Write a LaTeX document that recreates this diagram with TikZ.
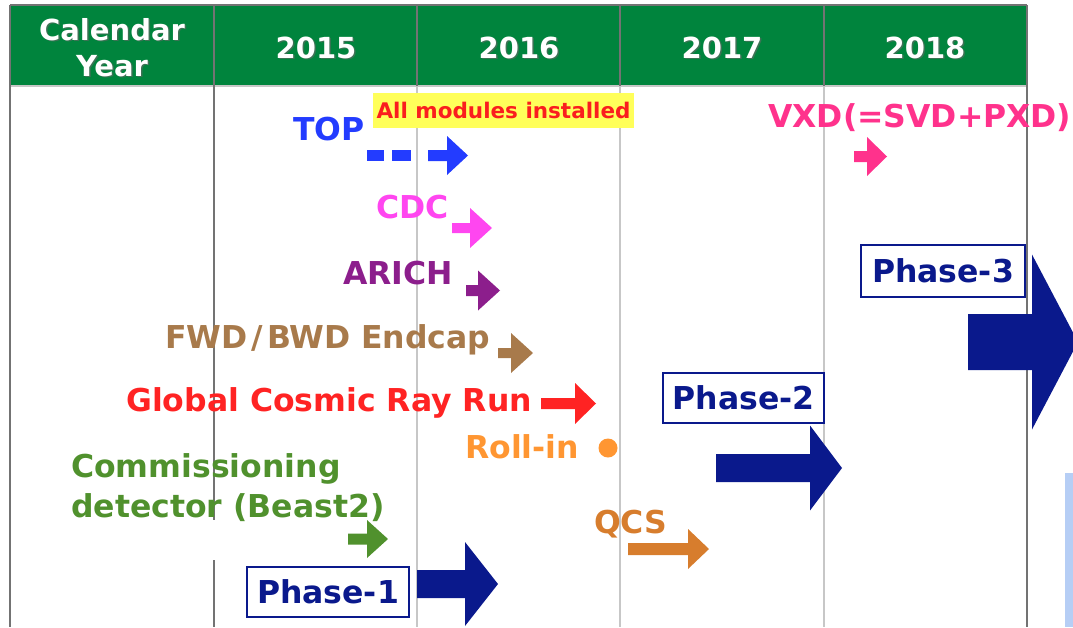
\documentclass[tikz,border=0pt]{standalone}
\usepackage{fontspec}
\setsansfont{DejaVu Sans}
\usetikzlibrary{positioning}

\definecolor{headgreen}{RGB}{0,132,61}
\definecolor{topblue}{RGB}{35,60,255}
\definecolor{allred}{RGB}{250,30,30}
\definecolor{allyellow}{RGB}{255,255,90}
\definecolor{cdcpink}{RGB}{255,70,240}
\definecolor{arichpurple}{RGB}{140,30,140}
\definecolor{endcapbrown}{RGB}{168,122,75}
\definecolor{cosmicred}{RGB}{255,35,35}
\definecolor{rollorange}{RGB}{255,150,50}
\definecolor{commgreen}{RGB}{80,145,45}
\definecolor{qcsorange}{RGB}{215,125,45}
\definecolor{vxdpink}{RGB}{255,50,140}
\definecolor{phasenavy}{RGB}{10,25,140}
\definecolor{edgeblue}{RGB}{182,206,245}

% block arrow: colour, x start, x head, x tip, y centre, shaft half, head half
\newcommand{\fatarrow}[7]{%
  \fill[#1] (#2,#5-#6) -- (#3,#5-#6) -- (#3,#5-#7) -- (#4,#5)
    -- (#3,#5+#7) -- (#3,#5+#6) -- (#2,#5+#6) -- cycle;}

\begin{document}
\begin{tikzpicture}[
    x=1pt, y=-1pt,
    darkline/.style={draw=black!55, line width=1.3pt},
    lightline/.style={draw=black!22, line width=1.3pt},
    headtext/.style={text=white, inner sep=0pt, anchor=base, font=\sffamily\bfseries\fontsize{29}{34}\selectfont},
    headshadow/.style={headtext, text=black!60, opacity=0.6},
    itemlabel/.style={inner sep=0pt, anchor=base west, font=\sffamily\bfseries\fontsize{31.5}{36}\selectfont},
    notebox/.style={fill=allyellow, text=allred, inner sep=0pt, minimum width=261pt, minimum height=35pt, font=\sffamily\bfseries\fontsize{21.5}{24}\selectfont},
    phasebox/.style={draw=phasenavy, line width=2.5pt, fill=white, text=phasenavy, inner sep=0pt, font=\sffamily\bfseries\fontsize{31.5}{36}\selectfont}
]
\useasboundingbox (0,0) rectangle (1073,627);
\clip (0,0) rectangle (1073,627);

% Header and grid
\fill[headgreen] (10,5) rectangle (1027,86);
\draw[darkline] (10,5) -- (1027,5);
\draw[lightline] (10,86) -- (1027,86);
\draw[darkline] (10,5) -- (10,627);
\draw[darkline] (1027,5) -- (1027,627);
\draw[darkline] (214,5) -- (214,520);
\draw[darkline] (214,560) -- (214,627);
\foreach \xg in {417,620,824} {
  \draw[darkline] (\xg,5) -- (\xg,86);
  \draw[lightline] (\xg,86) -- (\xg,627);
}

% Header texts
\node[headshadow] at (113.5,41.5) {Calendar};
\node[headtext] (cal) at (112,40) {Calendar};
\node[headshadow] at (113.5,77.5) {Year};
\node[headtext] (year) at (112,76) {Year};
\foreach \yr/\xc in {2015/316,2016/519,2017/722,2018/925} {
  \node[headshadow] at (\xc+1.5,59.5) {\yr};
  \node[headtext] (y\yr) at (\xc,58) {\yr};
}

% Detector items
\node[notebox] (allmod) at (503.5,110.5) {All modules installed};
\node[itemlabel, text=topblue] (top) at (293,140) {TOP};
\fill[topblue] (367,150) rectangle (384,161);
\fill[topblue] (392,150) rectangle (411,161);
\fatarrow{topblue}{428}{447}{468}{155.5}{5.5}{19.5}

\node[itemlabel, text=cdcpink] (cdc) at (376,218) {CDC};
\fatarrow{cdcpink}{452}{470}{492}{228}{5}{20}

\node[itemlabel, text=arichpurple] (arich) at (343,284) {ARICH};
\fatarrow{arichpurple}{466}{478}{500}{290.5}{5.5}{20}

\node[itemlabel, text=endcapbrown] (endcap) at (165,348) {FWD\kern4pt/\kern4pt BWD Endcap};
\fatarrow{endcapbrown}{498}{511}{533}{353}{5}{20}

\node[itemlabel, text=cosmicred] (cosmic) at (126,411) {Global Cosmic Ray Run};
\fatarrow{cosmicred}{541}{575}{596}{403.5}{5.5}{20.5}

\node[itemlabel, text=rollorange] (rollin) at (465,458) {Roll-in};
\fill[rollorange] (608,448) circle (9.5);

\node[itemlabel, text=commgreen] (comm) at (71,477) {Commissioning};
\node[itemlabel, text=commgreen] (beast) at (71,517) {detector (Beast2)};
\fatarrow{commgreen}{348}{367}{388}{539}{5.5}{19}

\node[itemlabel, text=qcsorange] (qcs) at (594,533) {QCS};
\fatarrow{qcsorange}{628}{688}{709}{549}{6}{20}

\node[itemlabel, text=vxdpink] (vxd) at (768,127) {VXD(=SVD+PXD)};
\fatarrow{vxdpink}{854}{867}{887}{156.5}{5.5}{19.5}

% Phases
\node[phasebox, minimum width=162pt, minimum height=50pt] (ph1) at (328,592) {Phase-1};
\fatarrow{phasenavy}{417}{465}{498}{584}{14}{42}
\node[phasebox, minimum width=161pt, minimum height=50pt] (ph2) at (743.5,398) {Phase-2};
\fatarrow{phasenavy}{716}{810}{842}{468}{14}{42.5}
\node[phasebox, minimum width=164pt, minimum height=52pt] (ph3) at (943,271) {Phase-3};
\fatarrow{phasenavy}{968}{1032}{1078}{342}{28}{87.5}

% Edge of the next panel
\fill[edgeblue] (1065,473) rectangle (1073,627);

\end{tikzpicture}
\end{document}
